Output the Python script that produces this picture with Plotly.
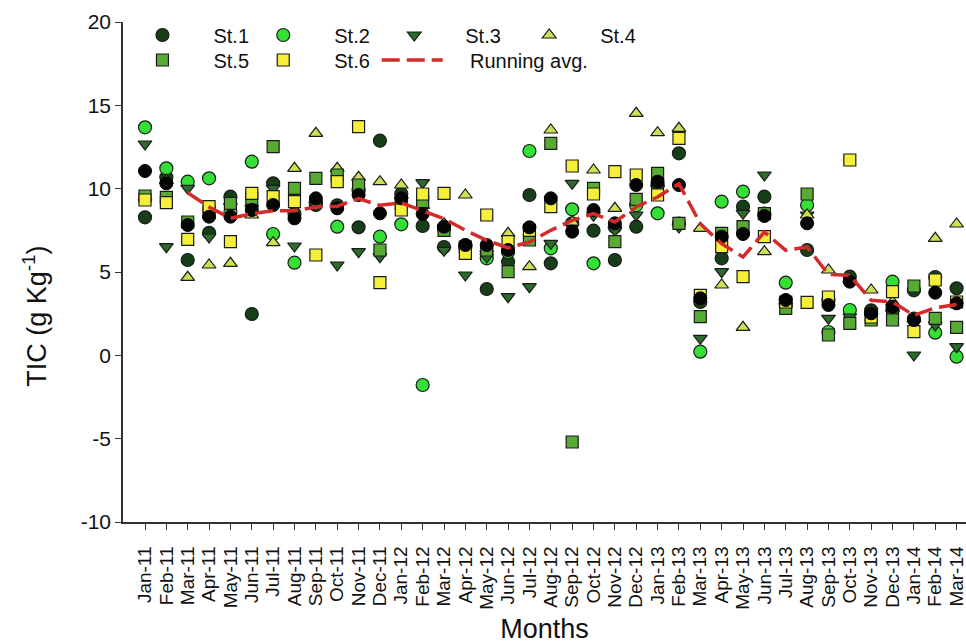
import plotly.graph_objects as go

months = ["Jan-11", "Feb-11", "Mar-11", "Apr-11", "May-11", "Jun-11", "Jul-11", "Aug-11",
          "Sep-11", "Oct-11", "Nov-11", "Dec-11", "Jan-12", "Feb-12", "Mar-12", "Apr-12",
          "May-12", "Jun-12", "Jul-12", "Aug-12", "Sep-12", "Oct-12", "Nov-12", "Dec-12",
          "Jan-13", "Feb-13", "Mar-13", "Apr-13", "May-13", "Jun-13", "Jul-13", "Aug-13",
          "Sep-13", "Oct-13", "Nov-13", "Dec-13", "Jan-14", "Feb-14", "Mar-14"]

st1 = [8.28, 10.68, 5.72, 7.35, 9.52, 2.48, 10.32, 8.5, 9.02, 9.0, 7.68, 12.88, 9.7, 7.76,
       6.5, 6.6, 3.98, 5.62, 9.62, 5.52, 7.92, 7.48, 5.72, 7.72, 10.2, 12.12, 3.2, 5.82,
       8.92, 9.52, 3.0, 6.32, 3.3, 4.72, 2.7, 2.7, 3.9, 4.7, 4.02]
st2 = [13.68, 11.22, 10.42, 10.62, 8.6, 11.62, 7.28, 5.56, 9.2, 7.72, 9.9, 7.12, 7.86, -1.78,
       7.6, 6.5, 5.82, 6.2, 12.26, 6.42, 8.76, 5.52, 7.7, 9.0, 8.52, 7.9, 0.22, 9.22,
       9.82, 8.5, 4.36, 9.02, 1.4, 2.72, 2.6, 4.42, 2.2, 1.36, -0.08]
st3 = [12.68, 6.52, 10.02, 7.1, 8.92, 8.8, 10.02, 6.56, 9.0, 5.42, 6.22, 5.92, 9.3, 10.36,
       6.3, 4.82, 5.9, 3.52, 4.12, 6.72, 10.32, 8.4, 7.5, 8.42, 10.0, 7.7, 1.02, 5.02,
       8.52, 10.82, 3.2, 8.42, 2.22, 2.3, 2.3, 2.5, 0.02, 1.82, 0.52]
st4 = [9.5, 10.5, 4.68, 5.42, 5.52, 8.42, 6.76, 11.22, 13.32, 11.22, 10.68, 10.42, 10.22, 9.0,
       7.9, 9.62, 6.4, 7.32, 5.32, 13.52, 8.0, 11.12, 8.82, 14.52, 13.36, 13.62, 7.62, 4.22,
       1.68, 6.22, 3.3, 8.42, 5.12, 4.6, 3.92, 3.2, 2.2, 7.02, 7.88]
st5 = [9.56, 9.48, 8.0, 8.6, 9.12, 9.42, 12.52, 10.02, 10.62, 10.82, 10.22, 6.32, 9.12, 9.22,
       7.5, 6.5, 6.32, 5.02, 6.92, 12.72, -5.2, 10.02, 6.82, 9.36, 10.92, 7.92, 2.32, 7.32,
       7.72, 8.5, 2.82, 9.68, 1.22, 1.92, 2.12, 2.12, 4.16, 2.22, 1.68]
st6 = [9.32, 9.16, 6.96, 8.92, 6.82, 9.72, 9.52, 9.22, 6.02, 10.42, 13.72, 4.36, 8.72, 9.68,
       9.72, 6.12, 8.42, 6.82, 7.5, 8.92, 11.36, 9.68, 11.02, 10.82, 9.62, 13.02, 3.6, 6.52,
       4.72, 7.12, 3.2, 3.18, 3.5, 11.72, 2.3, 3.82, 1.42, 4.52, 3.2]
monthly_mean = [11.06, 10.32, 7.82, 8.32, 8.32, 8.72, 9.02, 8.22, 9.42, 8.82, 9.62, 8.52, 9.42,
                8.48, 7.72, 6.62, 6.62, 6.32, 7.68, 9.42, 7.42, 8.72, 7.92, 10.22, 10.42, 10.22,
                3.42, 7.12, 7.28, 8.36, 3.32, 7.92, 3.02, 4.42, 2.52, 2.92, 2.12, 3.76, 3.12]
running_avg = [None, None, 9.75, 8.9, 8.22, 8.5, 8.68, 8.68, 8.9, 8.95, 9.4, 9.0, 9.15, 8.65,
               8.2, 7.5, 6.9, 6.45, 6.8, 7.5, 8.1, 8.5, 8.0, 8.9, 9.5, 10.3, 7.9, 6.7, 5.9,
               7.4, 6.3, 6.5, 4.85, 4.8, 3.3, 3.2, 2.4, 2.85, 3.05]

y_ticks = [-10, -5, 0, 5, 10, 15, 20]
y_tick_text = ["-10", "-5", "0", "5", "10", "15", "20"]

FONT = "Liberation Sans, Arial, sans-serif"
EDGE = "#1a1a1a"

# name, values, symbol, fill colour, size, legend id, legend x (paper), legend y (paper)
stations = [
    ("St.1", st1, "circle", "#173f17", 13, "legend", -0.0137, 0.974),
    ("St.2", st2, "circle", "#33e033", 13, "legend2", 0.1296, 0.974),
    ("St.3", st3, "triangle-down", "#2b6b2b", 12, "legend3", 0.2850, 0.974),
    ("St.4", st4, "triangle-up", "#cde055", 12, "legend4", 0.4451, 0.974),
    ("St.5", st5, "square", "#58ab32", 12, "legend5", -0.0137, 0.924),
    ("St.6", st6, "square", "#f5ef3a", 12, "legend6", 0.1296, 0.924),
]

fig = go.Figure()
legend_layout = {}
for name, vals, sym, col, size, leg, lx, ly in stations:
    fig.add_trace(go.Scatter(
        x=months, y=vals, mode="markers", name=name, legend=leg,
        marker=dict(symbol=sym, size=size, color=col, line=dict(color=EDGE, width=1.2)),
    ))
    legend_layout[leg] = dict(
        orientation="h", x=lx, xanchor="left", y=ly, yanchor="middle",
        font=dict(size=20), itemwidth=92, bgcolor="rgba(0,0,0,0)",
    )

fig.add_trace(go.Scatter(
    x=months, y=monthly_mean, mode="markers", name="Mean", showlegend=False,
    marker=dict(symbol="circle", size=13, color="#050505", line=dict(color="#000000", width=1)),
))

fig.add_trace(go.Scatter(
    x=months, y=running_avg, mode="lines",
    name="\u00a0\u00a0\u00a0\u00a0Running avg.", legend="legend7",
    line=dict(color="#d42a2a", width=3.5, dash="18px,7px"),
))
legend_layout["legend7"] = dict(
    orientation="h", x=0.3010, xanchor="left", y=0.924, yanchor="middle",
    font=dict(size=20), itemwidth=61, bgcolor="rgba(0,0,0,0)",
)

axis_common = dict(
    showline=True, linecolor="#333333", linewidth=1.5,
    ticks="outside", ticklen=6, tickwidth=1.3, tickcolor="#333333",
    showgrid=False, zeroline=False, mirror=False, automargin=False,
)

fig.update_layout(
    width=966, height=644,
    margin=dict(l=123, r=0, t=22, b=122, pad=0, autoexpand=False),
    paper_bgcolor="white", plot_bgcolor="white",
    font=dict(family=FONT, color="#111111"),
    xaxis=dict(
        type="category", categoryorder="array", categoryarray=months,
        tickmode="array", tickvals=months, ticktext=[m + "\u00a0\u2009" for m in months],
        range=[-1.03, 38.44], tickangle=-90, tickfont=dict(size=19),
        title=dict(text="Months", font=dict(size=27), standoff=14),
        **axis_common,
    ),
    yaxis=dict(
        range=[-10, 20], tickmode="array", tickvals=y_ticks, ticktext=y_tick_text,
        tickfont=dict(size=21),
        **axis_common,
    ),
    annotations=[dict(
        text="TIC (g Kg<sup>-1</sup>)", textangle=-90, showarrow=False,
        xref="paper", yref="paper", x=-0.1046, y=0.412,
        xanchor="center", yanchor="middle", font=dict(size=27),
    )],
    showlegend=True,
    **legend_layout,
)

fig.write_html(
    "out.html",
    config={"displayModeBar": False},
    post_script="document.body.style.margin='0px';document.body.style.overflow='hidden';",
)
